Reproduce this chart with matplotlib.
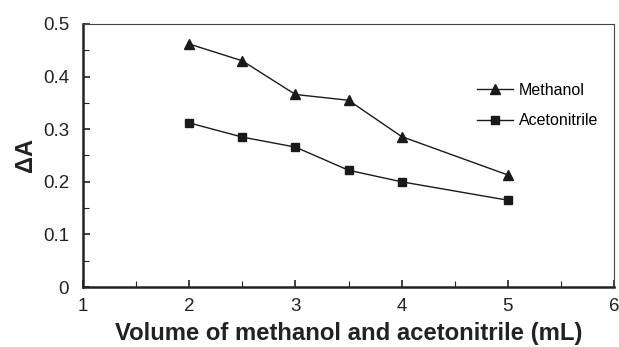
import matplotlib
matplotlib.use("Agg")
import matplotlib.pyplot as plt
from matplotlib.ticker import MultipleLocator

plt.rcParams['font.family'] = ['Liberation Sans', 'DejaVu Sans']

volume = [2, 2.5, 3, 3.5, 4, 5]
methanol = [0.462, 0.430, 0.366, 0.355, 0.286, 0.213]
acetonitrile = [0.312, 0.285, 0.266, 0.222, 0.200, 0.165]

fig = plt.figure(figsize=(6.19, 3.47), dpi=100)
ax = fig.add_axes([83 / 619, 1 - 287 / 347, (614 - 83) / 619, (287 - 24) / 347])

ax.plot(volume, methanol, color='#1a1a1a', lw=1, marker='^', ms=7.5, label='Methanol')
ax.plot(volume, acetonitrile, color='#1a1a1a', lw=1, marker='s', ms=6, label='Acetonitrile')

ax.set_xlim(1, 6)
ax.set_ylim(0, 0.5)
ax.xaxis.set_major_locator(MultipleLocator(1))
ax.xaxis.set_minor_locator(MultipleLocator(0.5))
ax.yaxis.set_minor_locator(MultipleLocator(0.05))
ax.set_yticks([0, 0.1, 0.2, 0.3, 0.4, 0.5])
ax.set_yticklabels(['0', '0.1', '0.2', '0.3', '0.4', '0.5'])
ax.tick_params(which='both', direction='in', top=False, right=False,
               labelsize=13.5, colors='#222222')
ax.tick_params(axis='x', pad=8)
ax.tick_params(axis='y', pad=10)
ax.tick_params(which='major', length=5, width=1.2)
ax.tick_params(which='minor', length=4, width=0.8)

for s in ['left', 'bottom']:
    ax.spines[s].set_linewidth(1.8)
    ax.spines[s].set_color('#222222')
for s in ['top', 'right']:
    ax.spines[s].set_linewidth(0.8)
    ax.spines[s].set_color('#444444')

ax.set_xlabel('Volume of methanol and acetonitrile (mL)', fontsize=17.2,
              fontweight='bold', color='#222222', labelpad=5)
ax.set_ylabel('ΔA', fontsize=17, fontweight='bold', color='#222222', labelpad=4)

ax.legend(loc='upper right', bbox_to_anchor=(0.997, 0.83), frameon=False,
          fontsize=11.5, handlelength=2.3, handletextpad=0.33, labelspacing=0.95)

fig.savefig('out.png', dpi=100)
